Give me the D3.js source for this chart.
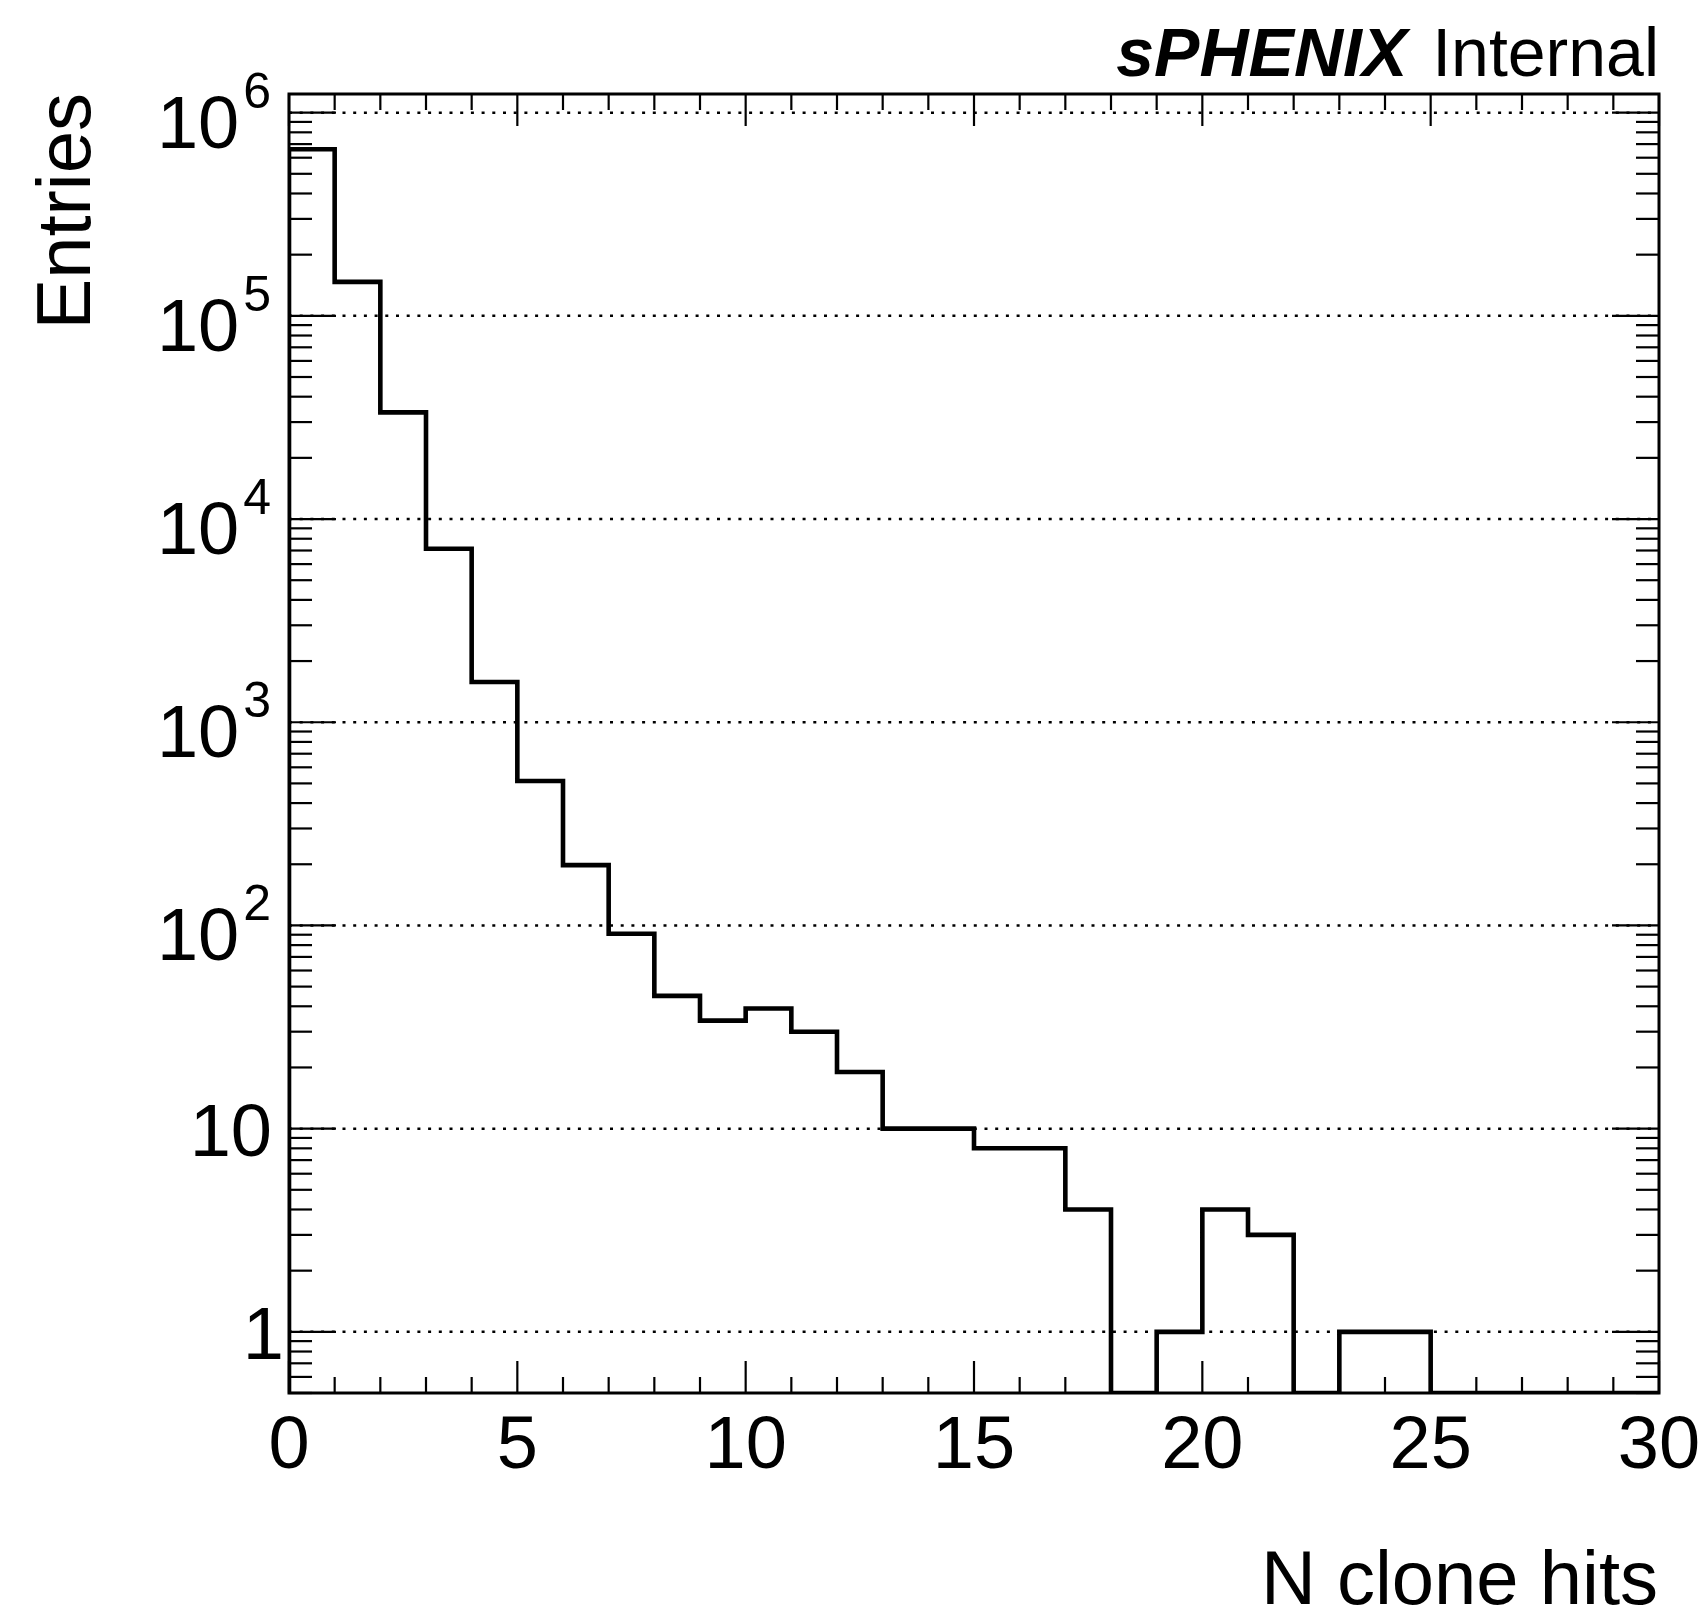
<!DOCTYPE html>
<html>
<head>
<meta charset="utf-8">
<script src="https://cdn.jsdelivr.net/npm/d3@7"></script>
<style>
  html, body { margin: 0; padding: 0; background: #fff; overflow: hidden; }
  text { font-family: "Liberation Sans", Arial, Helvetica, sans-serif; fill: #000; }
</style>
</head>
<body>
<svg id="chart" width="1706" height="1615"></svg>
<script>
// ---- data ----
const binLowEdges = [0,1,2,3,4,5,6,7,8,9,10,11,12,13,14,15,16,17,18,19,20,21,22,23,24,25,26,27,28,29];
const binWidth = 1;
const counts = [660000,147000,33500,7140,1577,514,198,91,45,34,39,30,19,10,10,8,8,4,0,1,4,3,0,1,1,0,0,0,0,0];
const xTickValues = [0,5,10,15,20,25,30];
const xTickLabels = ["0","5","10","15","20","25","30"];
const yDecades = [1,10,100,1000,10000,100000,1000000];
const yTickBase = ["1","10","10","10","10","10","10"];
const yTickExp = ["","","2","3","4","5","6"];
const xTitle = "N clone hits";
const yTitle = "Entries";
const labelBold = "sPHENIX";
const labelRegular = "Internal";
const xDomain = [0,30];
const yDomain = [0.5,1.235e6];

// ---- layout ----
const L = 289, R = 1659, T = 94, B = 1393;
const svg = d3.select("#chart");
const x = d3.scaleLinear().domain(xDomain).range([L,R]);
const y = d3.scaleLog().domain(yDomain).range([B,T]);

// grid lines (dotted, decades)
svg.append("g").selectAll("line").data(yDecades).join("line")
  .attr("x1", L).attr("x2", R)
  .attr("y1", d => y(d)).attr("y2", d => y(d))
  .attr("stroke", "#000").attr("stroke-width", 2.5)
  .attr("stroke-dasharray", "3 7.7");

// histogram
svg.append("clipPath").attr("id","clipFrame")
  .append("rect").attr("x", L).attr("y", T).attr("width", R-L).attr("height", B-T);
const ymin = yDomain[0];
const pts = [[binLowEdges[0], ymin]];
binLowEdges.forEach((e,i) => pts.push([e, Math.max(counts[i], ymin)]));
pts.push([binLowEdges[binLowEdges.length-1] + binWidth, Math.max(counts[counts.length-1], ymin)]);
const line = d3.line().x(d => x(d[0])).y(d => y(d[1])).curve(d3.curveStepAfter);
svg.append("path").attr("d", line(pts))
  .attr("fill","none").attr("stroke","#000").attr("stroke-width",4.6)
  .attr("stroke-linejoin","miter").attr("clip-path","url(#clipFrame)");

// ticks
const tk = svg.append("g").attr("stroke","#000").attr("stroke-width",2.2);
const xMinor = d3.range(xDomain[0], xDomain[1]+1, 1);
xMinor.forEach(v => {
  const len = (v % 5 === 0) ? 32 : 16;
  tk.append("line").attr("x1",x(v)).attr("x2",x(v)).attr("y1",B).attr("y2",B-len);
  tk.append("line").attr("x1",x(v)).attr("x2",x(v)).attr("y1",T).attr("y2",T+len);
});
const yMinorVals = [];
for (let e = -1; e <= 6; e++) for (let m = 1; m <= 9; m++) {
  const v = m * Math.pow(10, e);
  if (v >= yDomain[0] && v <= yDomain[1]) yMinorVals.push([v, m === 1]);
}
yMinorVals.forEach(([v, major]) => {
  const len = major ? 47 : 23;
  tk.append("line").attr("x1",L).attr("x2",L+len).attr("y1",y(v)).attr("y2",y(v));
  tk.append("line").attr("x1",R).attr("x2",R-len).attr("y1",y(v)).attr("y2",y(v));
});

// frame
svg.append("rect").attr("x",L).attr("y",T).attr("width",R-L).attr("height",B-T)
  .attr("fill","none").attr("stroke","#000").attr("stroke-width",3);

// x tick labels
svg.append("g").selectAll("text").data(xTickValues).join("text")
  .attr("x", d => x(d)).attr("y", 1468)
  .attr("text-anchor","middle").attr("font-size",74)
  .text((d,i) => xTickLabels[i]);

// y tick labels
yDecades.forEach((d,i) => {
  const hasExp = yTickExp[i] !== "";
  const t = svg.append("text")
    .attr("text-anchor","end").attr("font-size",74)
    .attr("x", hasExp ? 271 : (yTickBase[i] === "1" ? 284 : 272))
    .attr("y", y(d) + (hasExp ? 35 : 27));
  t.append("tspan").text(yTickBase[i]);
  if (hasExp) {
    t.append("tspan").attr("font-size",50).attr("dx",4).attr("dy",-40).text(yTickExp[i]);
  }
});

// axis titles
svg.append("text").attr("x", 1658).attr("y", 1604)
  .attr("text-anchor","end").attr("font-size",76).text(xTitle);
svg.append("text").attr("transform","translate(90,93) rotate(-90)")
  .attr("text-anchor","end").attr("font-size",76).text(yTitle);

// label
const lab = svg.append("text").attr("x", 1659).attr("y", 76)
  .attr("text-anchor","end").attr("font-size",68);
lab.append("tspan").attr("font-weight","bold").attr("font-style","italic").text(labelBold);
lab.append("tspan").attr("dx",6).text(" " + labelRegular);
</script>
</body>
</html>
